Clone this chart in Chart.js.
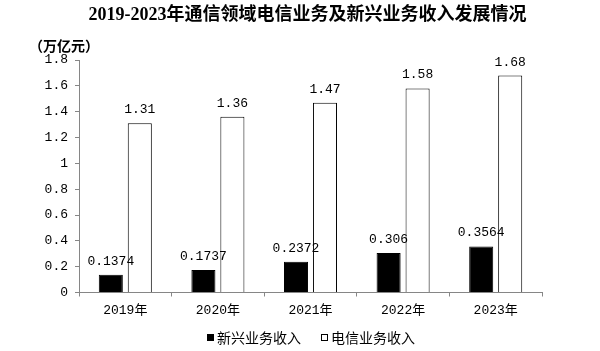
<!DOCTYPE html>
<html>
<head>
<meta charset="utf-8">
<script src="https://cdn.jsdelivr.net/npm/chart.js@4"></script>
<style>
  html, body { margin: 0; padding: 0; background: #fff; }
</style>
</head>
<body>
<canvas id="inc" width="600" height="351"></canvas>
<script>
const years = ['2019年', '2020年', '2021年', '2022年', '2023年'];
const newBiz = [0.1374, 0.1737, 0.2372, 0.306, 0.3564];
const telecom = [1.31, 1.36, 1.47, 1.58, 1.68];
const seriesNames = ['新兴业务收入', '电信业务收入'];

const monoFont = "'Liberation Mono', 'Noto Sans CJK SC'";
const cjkFont = "'Noto Sans CJK SC'";
const axisGray = '#868686';

// labels over bars, title, unit and legend
const extras = {
  id: 'extras',
  afterDatasetsDraw(chart) {
    const ctx = chart.ctx;
    ctx.save();
    ctx.fillStyle = '#000';
    ctx.font = '13px ' + monoFont;
    ctx.textAlign = 'center';
    ctx.textBaseline = 'alphabetic';
    chart.data.datasets.forEach((ds, di) => {
      chart.getDatasetMeta(di).data.forEach((bar, i) => {
        ctx.fillText(String(ds.data[i]), bar.x, bar.y - 10);
      });
    });
    ctx.restore();
  },
  afterDraw(chart) {
    const ctx = chart.ctx;
    ctx.save();
    ctx.fillStyle = '#000';
    ctx.textBaseline = 'middle';

    ctx.font = "bold 18px 'Liberation Serif', 'Noto Sans CJK SC'";
    ctx.textAlign = 'center';
    ctx.fillText('2019-2023年通信领域电信业务及新兴业务收入发展情况', 307.5, 15);

    ctx.font = 'bold 14px ' + cjkFont;
    ctx.textAlign = 'left';
    ctx.fillText('（万亿元）', 29, 46);

    // legend
    ctx.font = '14px ' + cjkFont;
    ctx.fillRect(207, 334, 7, 7);
    ctx.fillText(seriesNames[0], 217, 338);
    ctx.strokeStyle = '#000';
    ctx.lineWidth = 1;
    ctx.strokeRect(321.5, 334.5, 6, 6);
    ctx.fillText(seriesNames[1], 331, 338);
    ctx.restore();
  }
};

new Chart(document.getElementById('inc'), {
  type: 'bar',
  data: {
    labels: years,
    datasets: [{
      label: seriesNames[0],
      data: newBiz,
      backgroundColor: '#000',
      borderColor: '#000',
      borderWidth: 1
    }, {
      label: seriesNames[1],
      data: telecom,
      backgroundColor: '#fff',
      borderColor: '#000',
      borderWidth: 1
    }]
  },
  options: {
    responsive: false,
    animation: false,
    categoryPercentage: 0.626,
    barPercentage: 0.83,
    layout: { padding: { top: 60, right: 58, left: 0, bottom: 0 } },
    plugins: {
      legend: { display: false },
      tooltip: { enabled: false }
    },
    scales: {
      x: {
        grid: { drawOnChartArea: false, color: axisGray, tickLength: 4 },
        border: { color: axisGray },
        ticks: { color: '#000', font: { size: 13, family: monoFont }, padding: 6 },
        afterFit: s => { s.height = 58.5; }
      },
      y: {
        min: 0,
        max: 1.8,
        ticks: {
          stepSize: 0.2,
          color: '#000',
          font: { size: 13, family: monoFont },
          padding: 7,
          callback: v => String(Math.round(v * 10) / 10)
        },
        grid: { drawOnChartArea: false, color: axisGray, tickLength: 4 },
        border: { color: axisGray },
        afterFit: s => { s.width = 79; }
      }
    }
  },
  plugins: [extras]
});
</script>
</body>
</html>
